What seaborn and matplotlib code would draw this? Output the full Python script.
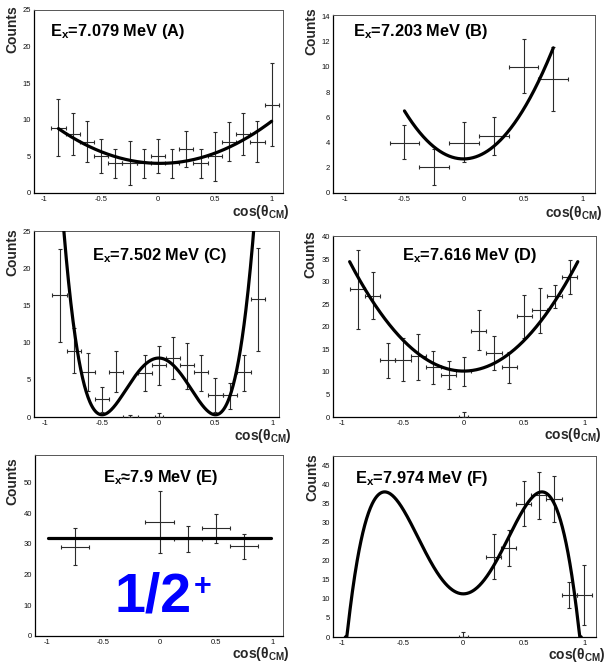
import numpy as np
import matplotlib
matplotlib.use("Agg")
import matplotlib.pyplot as plt
import seaborn as sns
from matplotlib.ticker import MultipleLocator, FuncFormatter

# ---------------- data ----------------
# Panel A: Ex = 7.079 MeV
xA = [-0.875, -0.75, -0.625, -0.5, -0.375, -0.25, -0.125, 0.0, 0.125, 0.25, 0.375, 0.5, 0.625, 0.75, 0.875, 1.0]
yA = [8.9, 8.0, 7.0, 5.1, 4.1, 4.1, 4.1, 5.1, 4.1, 6.0, 4.1, 5.1, 7.0, 8.0, 7.0, 12.0]
hiA = [12.9, 10.9, 9.9, 7.4, 6.0, 7.1, 6.0, 7.4, 6.0, 8.5, 6.0, 8.4, 9.7, 10.9, 9.8, 17.7]
loA = [5.0, 5.2, 4.2, 2.7, 2.0, 1.05, 2.0, 2.7, 2.0, 3.6, 2.0, 1.7, 4.4, 5.2, 4.2, 6.45]
xeA = [0.0625] * 16
fitA = [4.05, -0.21, 5.96]
rangeA = [-0.875, 1.0]

# Panel B: Ex = 7.203 MeV
xB = [-0.5, -0.25, 0.0, 0.25, 0.5, 0.75]
yB = [4.0, 2.05, 4.0, 4.55, 10.0, 9.05]
hiB = [5.4, 3.46, 5.6, 6.04, 12.2, 11.57]
loB = [2.66, 0.64, 2.45, 3.03, 7.9, 6.49]
xeB = [0.125] * 6
fitB = [2.7, 0.13, 15.47]
rangeB = [-0.5, 0.75]

# Panel C: Ex = 7.502 MeV
xC = [-0.875, -0.75, -0.625, -0.5, -0.375, -0.25, -0.125, 0.0, 0.125, 0.25, 0.375, 0.5, 0.625, 0.75, 0.875, 0.0]
yC = [16.35, 8.9, 6.1, 2.4, 6.1, 0.0, 5.9, 7.0, 7.9, 7.0, 6.1, 2.95, 2.95, 6.0, 15.8, 0.0]
hiC = [22.6, 11.9, 8.56, 4.05, 8.9, 0.3, 8.3, 9.55, 10.7, 10.0, 8.4, 5.2, 4.6, 8.4, 22.7, 0.6]
loC = [10.1, 5.85, 3.5, 0.68, 3.4, 0.0, 3.5, 4.28, 5.1, 3.83, 3.5, 0.68, 1.1, 3.5, 8.9, 0.0]
xeC = [0.0625] * 15 + [0.035]
fitC = [7.925, 0.0, -61.0, 0.0, 122.0]
rangeC = [-1.0, 1.0]

# Panel D: Ex = 7.616 MeV
xD = [-0.875, -0.75, -0.625, -0.5, -0.375, -0.25, -0.125, 0.0, 0.125, 0.25, 0.375, 0.5, 0.625, 0.75, 0.875, 0.0]
yD = [28.5, 26.9, 12.6, 12.7, 13.5, 11.1, 9.3, 10.3, 19.1, 14.2, 11.0, 22.4, 23.7, 26.9, 31.1, 0.0]
hiD = [37.0, 32.1, 16.4, 17.6, 18.5, 14.7, 12.4, 13.3, 23.7, 17.9, 14.4, 27.2, 28.7, 29.3, 34.8, 1.0]
loD = [19.6, 21.7, 8.7, 7.9, 8.3, 7.4, 6.15, 6.8, 14.8, 10.4, 7.6, 17.6, 18.7, 24.3, 27.3, 0.0]
xeD = [0.0625] * 15 + [0.035]
fitD = [10.2, 0.0, 27.5]
rangeD = [-0.94, 0.94]

# Panel E: Ex ~ 7.9 MeV
xE = [-0.75, 0.0, 0.25, 0.5, 0.75]
yE = [28.9, 37.0, 31.6, 35.1, 29.3]
hiE = [35.3, 47.3, 35.7, 39.7, 33.2]
loE = [23.2, 27.2, 27.3, 30.4, 25.1]
xeE = [0.125] * 5
fitE = [32.0]
rangeE = [-0.99, 0.99]

# Panel F: Ex = 7.974 MeV
xF = [0.25, 0.375, 0.5, 0.625, 0.75, 0.875, 1.0, 0.0]
yF = [21.0, 23.3, 34.8, 37.1, 36.1, 11.1, 11.1, 0.0]
hiF = [26.9, 28.0, 40.9, 43.3, 42.1, 14.4, 18.8, 1.2]
loF = [15.1, 18.5, 29.0, 31.0, 30.0, 7.6, 3.2, 0.0]
xeF = [0.0625] * 7 + [0.035]
fitF = [11.3, 0.0, 126.4, 0.0, -149.6]
rangeF = [-0.975, 0.975]

titles = ["E$_x$=7.079 MeV (A)", "E$_x$=7.203 MeV (B)", "E$_x$=7.502 MeV (C)",
          "E$_x$=7.616 MeV (D)", "E$_x$\u22487.9 MeV (E)", "E$_x$=7.974 MeV (F)"]
xlabel_text = "cos(\u03b8$_{CM}$)"
ylabel_text = "Counts"
spin_main = "1/2"
spin_sup = "+"

# ---------------- style ----------------
sns.set_style("white")
plt.rcParams['font.family'] = ['Liberation Sans', 'DejaVu Sans']
plt.rcParams['mathtext.fontset'] = 'custom'
for k in ['rm', 'it', 'bf', 'sf']:
    plt.rcParams['mathtext.' + k] = 'Liberation Sans:bold'
plt.rcParams['axes.unicode_minus'] = False

W, H = 605, 665
fig = plt.figure(figsize=(W / 100, H / 100), dpi=100)
fig.patch.set_facecolor('white')

panels = [
    dict(box=(34, 10, 283, 193), xlim=(-1.09, 1.1), ylim=(0, 25), ymaj=5, ymin=1,
         tpos=(0.064, 0.88), lpos=(-0.088, 1.027), xlpos=(1.028, -0.104),
         d=(xA, yA, loA, hiA, xeA, fitA, rangeA)),
    dict(box=(333, 15, 595, 193), xlim=(-1.1, 1.1), ylim=(0, 14.1), ymaj=2, ymin=0.5,
         tpos=(0.076, 0.905), lpos=(-0.084, 1.045), xlpos=(1.027, -0.112),
         d=(xB, yB, loB, hiB, xeB, fitB, rangeB)),
    dict(box=(34, 231, 279, 417), xlim=(-1.1, 1.06), ylim=(0, 25), ymaj=5, ymin=1,
         tpos=(0.237, 0.866), lpos=(-0.09, 1.016), xlpos=(1.05, -0.1),
         d=(xC, yC, loC, hiC, xeC, fitC, rangeC)),
    dict(box=(333, 236, 596, 417), xlim=(-1.077, 1.09), ylim=(0, 40.2), ymaj=5, ymin=1,
         tpos=(0.262, 0.895), lpos=(-0.087, 1.033), xlpos=(1.022, -0.1),
         d=(xD, yD, loD, hiD, xeD, fitD, rangeD)),
    dict(box=(35, 455, 283, 636), xlim=(-1.104, 1.095), ylim=(0, 59), ymaj=10, ymin=2,
         tpos=(0.274, 0.878), lpos=(-0.093, 0.99), xlpos=(1.028, -0.1),
         d=(xE, yE, loE, hiE, xeE, fitE, rangeE)),
    dict(box=(333, 456, 596, 637), xlim=(-1.077, 1.097), ylim=(0, 47.4), ymaj=5, ymin=1,
         tpos=(0.084, 0.878), lpos=(-0.08, 1.017), xlpos=(1.036, -0.1),
         d=(xF, yF, loF, hiF, xeF, fitF, rangeF)),
]

fmt = FuncFormatter(lambda v, _: f"{v:g}")

for i, p in enumerate(panels):
    l, t, r, b = p['box']
    ax = fig.add_axes([l / W, 1 - b / H, (r - l) / W, (b - t) / H])
    x, y, lo, hi, xe, fit, rng = p['d']
    x = np.asarray(x); y = np.asarray(y)
    lo = np.asarray(lo); hi = np.asarray(hi)
    ax.errorbar(x, y, xerr=xe, yerr=[y - lo, hi - y], fmt='none', ecolor='#2b2b2b',
                elinewidth=0.8, capsize=1.4, capthick=0.8, zorder=3)
    xs = np.linspace(rng[0], rng[1], 500)
    ys = np.polynomial.polynomial.polyval(xs, fit)
    ys = np.clip(ys, 0, None)
    sns.lineplot(x=xs, y=ys, ax=ax, color='black', linewidth=2.3, zorder=4,
                 sort=False, estimator=None)
    ax.set_xlim(*p['xlim'])
    ax.set_ylim(*p['ylim'])
    ax.set_xlabel(''); ax.set_ylabel('')
    ax.xaxis.set_major_locator(MultipleLocator(0.5))
    ax.xaxis.set_minor_locator(MultipleLocator(0.1))
    ax.yaxis.set_major_locator(MultipleLocator(p['ymaj']))
    ax.yaxis.set_minor_locator(MultipleLocator(p['ymin']))
    ax.xaxis.set_major_formatter(fmt)
    ax.yaxis.set_major_formatter(fmt)
    ax.tick_params(which='major', direction='in', length=4, width=0.6,
                   labelsize=5.5, pad=2, top=False, right=False, colors='#111111')
    ax.tick_params(which='minor', direction='in', length=2, width=0.5,
                   top=False, right=False, colors='#111111')
    for s in ['left', 'bottom']:
        ax.spines[s].set_color('black'); ax.spines[s].set_linewidth(0.9)
    for s in ['top', 'right']:
        ax.spines[s].set_color('#555555'); ax.spines[s].set_linewidth(0.7)
        ax.spines[s].set_visible(True)
    ax.text(p['tpos'][0], p['tpos'][1], titles[i], transform=ax.transAxes,
            fontsize=11.8, fontweight='bold', ha='left', va='center', color='black')
    ax.text(p['lpos'][0], p['lpos'][1], ylabel_text, transform=ax.transAxes,
            rotation=90, fontsize=10, fontweight='bold', ha='center', va='top',
            clip_on=False)
    ax.text(p['xlpos'][0], p['xlpos'][1], xlabel_text, transform=ax.transAxes,
            fontsize=10, fontweight='bold', ha='right', va='center', clip_on=False)
    if i == 4:
        ax.text(0.32, 0.133, spin_main, transform=ax.transAxes, fontsize=40,
                fontweight='bold', color='#0000ff', ha='left', va='baseline')
        ax.text(0.675, 0.224, spin_sup, transform=ax.transAxes, fontsize=22,
                fontweight='bold', color='#0000ff', ha='center', va='baseline')

fig.savefig('out.png', dpi=100)
